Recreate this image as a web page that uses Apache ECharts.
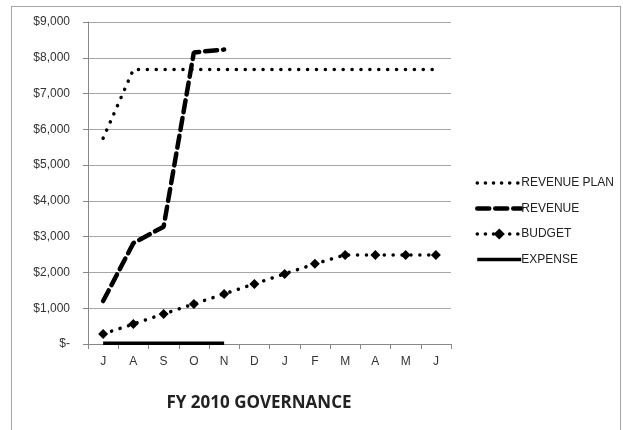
<!DOCTYPE html>
<html>
<head>
<meta charset="utf-8">
<script src="https://cdn.jsdelivr.net/npm/echarts@6/dist/echarts.min.js"></script>
<style>
html,body{margin:0;padding:0;background:#fff;}
#frame{position:absolute;left:11px;top:6px;width:610px;height:440px;border:1px solid #a6a6a6;border-bottom:none;box-sizing:border-box;}
#chart{position:absolute;left:0;top:0;width:623px;height:430px;}
</style>
</head>
<body>
<div id="frame"></div>
<div id="chart"></div>
<script>
const months = ['J','A','S','O','N','D','J','F','M','A','M','J'];
const revenuePlan = [5750,7670,7670,7670,7670,7670,7670,7670,7670,7670,7670,7670];
const revenue = [1200,2820,3280,8150,8230,null,null,null,null,null,null,null];
const budget = [280,560,840,1120,1400,1680,1960,2240,2490,2490,2490,2490];
const expense = [20,20,20,20,20,null,null,null,null,null,null,null];
const seriesNames = ['REVENUE PLAN','REVENUE','BUDGET','EXPENSE'];

const font = 'Liberation Sans, Arial, sans-serif';
const dotStyle = {color:'#000',width:3.5,type:[0.1,8.8],cap:'round'};
const dashStyle = {color:'#000',width:4.5,type:[12,6],cap:'round'};
const solidStyle = {color:'#000',width:3.5,type:'solid'};
const chart = echarts.init(document.getElementById('chart'));
chart.setOption({
  animation:false,
  backgroundColor:'transparent',
  title:{
    text:'FY 2010 GOVERNANCE',
    left:254, top:390, textAlign:'center',
    textStyle:{fontFamily:'Open Sans, Liberation Sans, sans-serif',fontSize:17,fontWeight:'bold',color:'#222'}
  },
  legend:{
    orient:'vertical', left:470, top:172, itemGap:13.5, itemWidth:44, itemHeight:14,
    textStyle:{fontFamily:font,fontSize:12,color:'#222',padding:[0,0,0,-5]},
    data:[
      {name:seriesNames[0],itemStyle:{opacity:0},lineStyle:{width:3.5,type:[0.1,8],cap:'round'}},
      {name:seriesNames[1],itemStyle:{opacity:0},lineStyle:{width:4.5,type:[12,6],cap:'round'}},
      {name:seriesNames[2],lineStyle:{width:3.5,type:[0.1,8],cap:'round'}},
      {name:seriesNames[3],itemStyle:{opacity:0},lineStyle:{width:3.5,type:'solid'}}
    ]
  },
  grid:{left:88,right:172,top:22,bottom:86},
  xAxis:{
    type:'category', data:months, boundaryGap:true,
    axisLine:{lineStyle:{color:'#888',width:1}},
    axisTick:{show:true,length:5,lineStyle:{color:'#888'}},
    axisLabel:{fontFamily:font,fontSize:12,color:'#333',margin:12}
  },
  yAxis:{
    type:'value', min:0, max:9000, interval:1000,
    axisLine:{show:true,lineStyle:{color:'#888'}},
    axisTick:{show:true,length:5,inside:false,lineStyle:{color:'#888'}},
    splitLine:{lineStyle:{color:'#a6a6a6',width:1}},
    axisLabel:{fontFamily:font,fontSize:12,color:'#333',margin:18,
      formatter:function(v){return v===0?'$-':'$'+v.toLocaleString('en-US');}}
  },
  series:[
    {name:seriesNames[0],type:'line',data:revenuePlan,symbol:'none',lineStyle:dotStyle,itemStyle:{color:'#000'}},
    {name:seriesNames[1],type:'line',data:revenue,symbol:'none',lineStyle:dashStyle,itemStyle:{color:'#000'}},
    {name:seriesNames[2],type:'line',data:budget,symbol:'diamond',symbolSize:10,lineStyle:dotStyle,itemStyle:{color:'#000'}},
    {name:seriesNames[3],type:'line',data:expense,symbol:'none',lineStyle:solidStyle,itemStyle:{color:'#000'}}
  ]
});
</script>
</body>
</html>
